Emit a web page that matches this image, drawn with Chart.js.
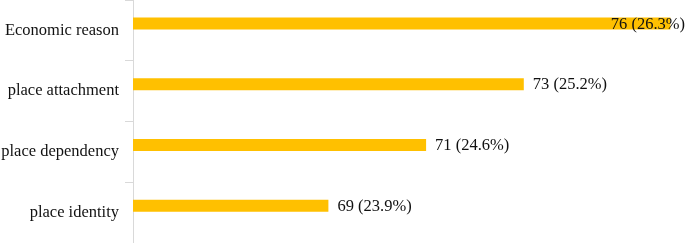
<!DOCTYPE html>
<html>
<head>
<meta charset="utf-8">
<script src="https://cdn.jsdelivr.net/npm/chart.js@4"></script>
<style>
  html, body { margin: 0; padding: 0; background: #fff; }
  #wrap { width: 685px; height: 243px; position: relative; }
</style>
</head>
<body>
<div id="wrap"><canvas id="reasonsChart"></canvas></div>
<script>
(function () {
    "use strict";

    // data
    var categories = ["Economic reason", "place attachment", "place dependency", "place identity"];
    var counts = [76, 73, 71, 69];
    var percents = ["26.3%", "25.2%", "24.6%", "23.9%"];
    var emptySeries = [null, null, null, null];

    var labelFont = "16.5px 'Liberation Serif', 'Times New Roman', serif";

    // writes "76 (26.3%)" after each bar, kept inside the chart on the right
    var valueLabels = {
        id: "valueLabels",
        afterDatasetsDraw: function (chart) {
            var ctx = chart.ctx;
            var meta = chart.getDatasetMeta(0);
            var right = chart.chartArea.right;
            ctx.save();
            ctx.font = labelFont;
            ctx.fillStyle = "#111";
            ctx.textBaseline = "middle";
            ctx.textAlign = "left";
            meta.data.forEach(function (bar, i) {
                var text = counts[i] + " (" + percents[i] + ")";
                var w = ctx.measureText(text).width;
                var x = Math.min(bar.x + 9, right - w);
                ctx.fillText(text, x, bar.y + 1);
            });
            ctx.restore();
        }
    };

    const ctx = document.getElementById("reasonsChart").getContext("2d");
    new Chart(ctx, {
        type: "bar",
        data: {
            labels: categories,
            datasets: [
                {
                    data: counts,
                    backgroundColor: "#FFC000",
                    borderWidth: 0,
                    categoryPercentage: 0.46,
                    barPercentage: 0.86,
                },
                {
                    data: emptySeries,
                    backgroundColor: "#FFC000",
                    categoryPercentage: 0.46,
                    barPercentage: 0.86,
                },
            ],
        },
        options: {
            indexAxis: "y",
            responsive: true,
            maintainAspectRatio: false,
            animation: false,
            layout: { padding: 0 },
            scales: {
                x: {
                    display: false,
                    min: 65,
                    max: 76.3,
                },
                y: {
                    afterFit: function (scale) {
                        scale.width = 133;
                        // let the axis run the full height of the canvas
                        scale.paddingTop = 0;
                        scale.paddingBottom = 0;
                    },
                    border: { display: true, color: "#d9d9d9", width: 1 },
                    grid: {
                        offset: true,
                        drawOnChartArea: false,
                        drawTicks: true,
                        tickLength: 8,
                        color: "#d9d9d9",
                    },
                    ticks: {
                        padding: 6,
                        color: "#111",
                        font: { family: "'Liberation Serif', 'Times New Roman', serif", size: 16.5 },
                    },
                },
            },
            plugins: {
                legend: { display: false },
                tooltip: { enabled: false },
            },
        },
        plugins: [valueLabels],
    });
})();
</script>
</body>
</html>
